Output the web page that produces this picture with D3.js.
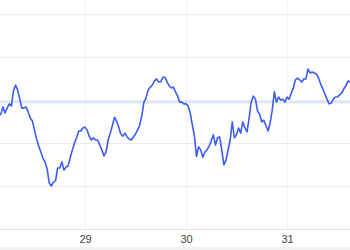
<!DOCTYPE html>
<html>
<head>
<meta charset="utf-8">
<script src="https://cdn.jsdelivr.net/npm/d3@7"></script>
<style>
  html, body { margin: 0; padding: 0; background: #fff; }
  svg { display: block; font-family: "Helvetica Neue", Arial, "Liberation Sans", sans-serif; }
</style>
</head>
<body>
<div id="chart"></div>
<script>
// ---- data ----
const startTime = new Date(2024, 0, 28, 3, 30);   // first sample
const stepMinutes = 30;                             // sampling interval
const values = [
  26.5, 26.7, 28.4, 27.0, 28.1, 29.1, 28.6, 32.1, 33.5, 32.3,
  30.2, 28.1, 28.1, 28.4, 27.2, 25.8, 25.1, 23.0, 20.9, 19.3,
  17.9, 16.5, 15.6, 14.0, 10.7, 10.0, 10.9, 11.2, 14.2, 14.2,
  15.6, 13.7, 14.4, 14.7, 16.7, 18.4, 20.0, 21.2, 22.8, 22.8,
  23.5, 23.7, 23.0, 21.6, 20.7, 21.2, 20.7, 20.7, 19.5, 18.4,
  17.0, 17.9, 20.7, 22.3, 24.0, 26.0, 25.1, 23.7, 22.1, 21.6,
  22.3, 21.4, 20.9, 20.7, 21.4, 22.1, 23.0, 24.2, 26.3, 29.5,
  30.5, 32.3, 33.0, 33.5, 34.4, 34.9, 34.2, 34.2, 35.3, 35.3,
  34.2, 33.3, 32.8, 33.0, 31.9, 30.9, 29.5, 29.5, 29.1, 29.1,
  28.6, 27.0, 24.2, 21.6, 16.9, 19.1, 18.4, 16.7, 17.9, 18.4,
  19.3, 20.5, 21.9, 19.5, 21.2, 21.4, 18.4, 14.9, 16.0, 18.4,
  20.7, 24.9, 21.2, 21.9, 23.5, 22.3, 24.9, 23.5, 22.6, 25.8,
  29.5, 30.9, 30.2, 27.4, 26.7, 24.9, 25.3, 24.0, 22.8, 24.7,
  27.7, 31.9, 29.5, 30.7, 30.0, 30.2, 29.5, 30.7, 30.2, 31.6,
  32.8, 34.7, 35.1, 34.7, 34.2, 34.9, 34.9, 37.2, 36.3, 36.5,
  36.3, 36.0, 35.1, 33.7, 32.6, 31.4, 30.2, 29.1, 29.3, 30.2,
  30.7, 30.7, 31.2, 31.6, 32.6, 33.3, 34.4, 34.2
];
const referenceValue = 29.5;
const yGridValues = [0, 10, 20, 30, 40, 50];
const xTickDates = [new Date(2024, 0, 29), new Date(2024, 0, 30), new Date(2024, 0, 31)];

const series = values.map((v, i) => ({
  t: new Date(startTime.getTime() + i * stepMinutes * 60000),
  v: v
}));

// ---- layout ----
const W = 350, H = 250;
const svg = d3.select("#chart").append("svg").attr("width", W).attr("height", H);

const x = d3.scaleTime()
  .domain([new Date(2024, 0, 29), new Date(2024, 0, 31)])
  .range([85, 287]);
const y = d3.scaleLinear().domain([0, 50]).range([229, 14]);

// bottom strip
svg.append("rect").attr("x", 0).attr("y", 247).attr("width", W).attr("height", 3).attr("fill", "#f2f2f2");

// vertical grid
svg.append("g").selectAll("line").data(xTickDates).join("line")
  .attr("x1", d => Math.round(x(d)) + 0.5).attr("x2", d => Math.round(x(d)) + 0.5)
  .attr("y1", 0).attr("y2", y(0))
  .attr("stroke", "#f2f2f2").attr("stroke-width", 1);

// horizontal grid
svg.append("g").selectAll("line").data(yGridValues).join("line")
  .attr("x1", 0).attr("x2", W)
  .attr("y1", d => Math.round(y(d)) + 0.5).attr("y2", d => Math.round(y(d)) + 0.5)
  .attr("stroke", d => d === 0 ? "#e3e3e3" : "#ebebeb").attr("stroke-width", 1);

// reference line
svg.append("line")
  .attr("x1", 0).attr("x2", W)
  .attr("y1", y(referenceValue)).attr("y2", y(referenceValue))
  .attr("stroke", "#4a6cf7").attr("stroke-opacity", 0.2).attr("stroke-width", 2);

// series line
const line = d3.line().x(d => x(d.t)).y(d => y(d.v));
svg.append("path").datum(series)
  .attr("d", line)
  .attr("fill", "none")
  .attr("stroke", "#3d5cf5")
  .attr("stroke-width", 1.6)
  .attr("stroke-linejoin", "round");

// x axis labels
const axis = d3.axisBottom(x).tickValues(xTickDates).tickFormat(d3.timeFormat("%-d")).tickSize(0).tickPadding(6);
const gx = svg.append("g").attr("transform", `translate(0,${y(0)})`).call(axis);
gx.select(".domain").remove();
gx.selectAll("text").attr("fill", "#444").attr("font-size", 11)
  .attr("font-family", "\"Helvetica Neue\", Arial, \"Liberation Sans\", sans-serif");
</script>
</body>
</html>
